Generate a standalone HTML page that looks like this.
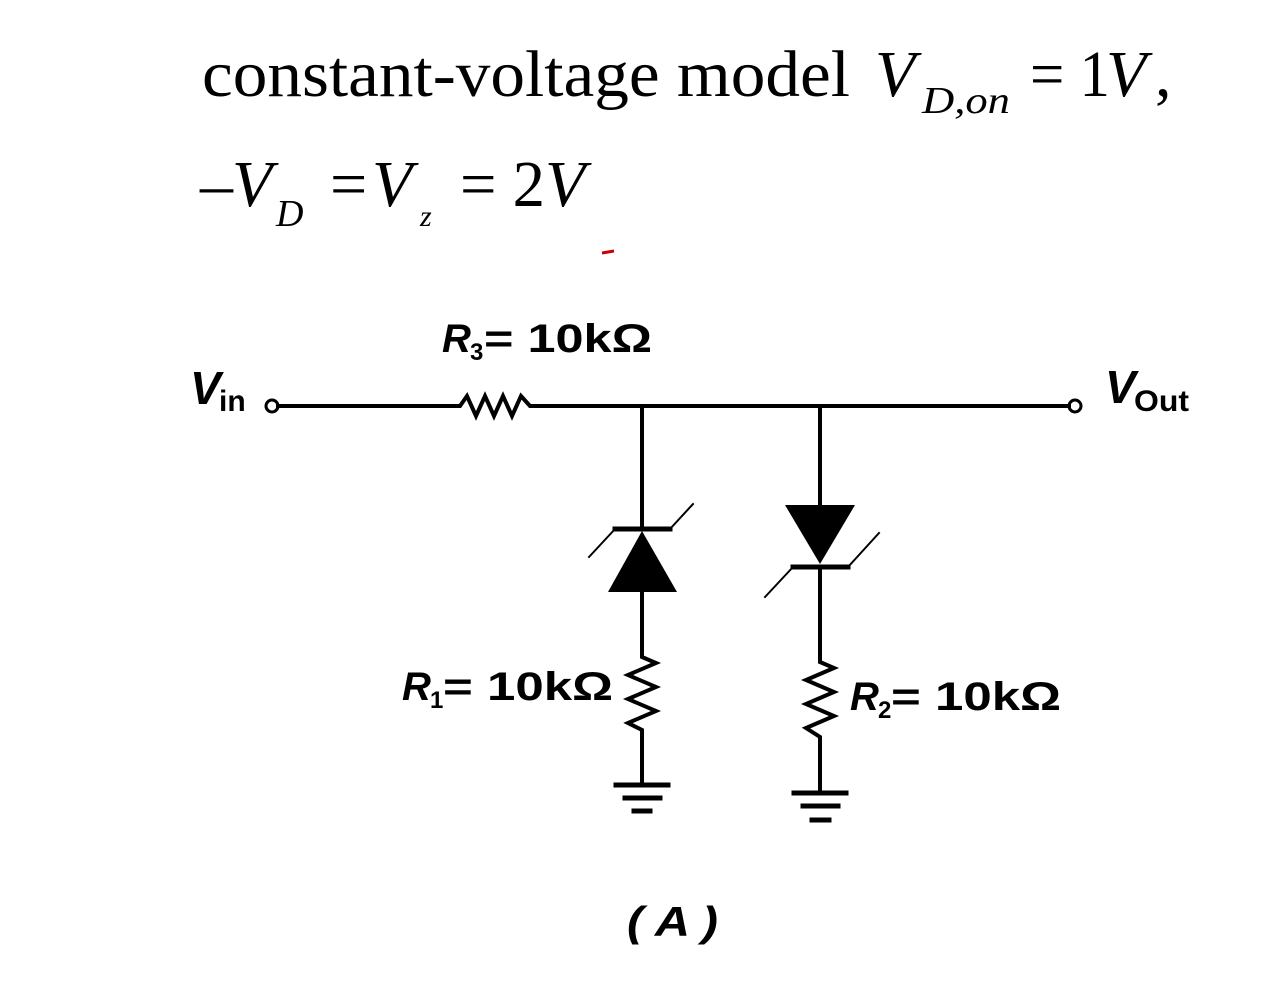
<!DOCTYPE html>
<html><head><style>
html,body{margin:0;padding:0;background:#fff;}
body{width:1268px;height:999px;position:relative;overflow:hidden;}
</style></head><body>
<svg width="1268" height="999" viewBox="0 0 1268 999" xmlns="http://www.w3.org/2000/svg" style="position:absolute;left:0;top:0">
<g font-family="Liberation Serif, serif" fill="#000">
<text x="202" y="96" font-size="66" textLength="648" lengthAdjust="spacingAndGlyphs">constant-voltage model</text>
<text x="875" y="96" font-size="66" font-style="italic">V</text>
<text x="922" y="113" font-size="38" font-style="italic" textLength="88" lengthAdjust="spacingAndGlyphs">D,on</text>
<text x="1030" y="96" font-size="66" textLength="80" lengthAdjust="spacingAndGlyphs">= 1</text>
<text x="1106" y="96" font-size="66" font-style="italic">V</text>
<text x="1155" y="96" font-size="66">,</text>
<text x="200" y="206" font-size="66">–</text>
<text x="232" y="206" font-size="66" font-style="italic">V</text>
<text x="276" y="226" font-size="38" font-style="italic">D</text>
<text x="330" y="206" font-size="66">=</text>
<text x="372" y="206" font-size="66" font-style="italic">V</text>
<text x="420" y="226" font-size="30" font-style="italic">z</text>
<text x="460" y="206" font-size="66" textLength="85" lengthAdjust="spacingAndGlyphs">= 2</text>
<text x="545" y="206" font-size="66" font-style="italic">V</text>
</g>
<path d="M602 253 L614 251" stroke="#c00" stroke-width="3"/>
<g stroke="#000" stroke-width="4" fill="none" stroke-linecap="square">
<circle cx="272" cy="406" r="6" stroke-width="3"/>
<circle cx="1075" cy="406" r="6" stroke-width="3"/>
<path d="M278 406 H460 L467 396 L476 416 L485 396 L494 416 L503 396 L512 416 L521 396 L530 406 H1069"/>
<path d="M642 406 V529"/>
<path d="M642 592 V657 L656 663 L628 675 L656 687 L628 699 L656 711 L628 723 L642 730 V785"/>
<path d="M616 785 H668 M625 798 H660 M634 811 H650" stroke-width="5"/>
<path d="M615 529 H670" stroke-width="5"/>
<path d="M589 557 L615 529 M670 529 L693 504" stroke-width="2"/>
<path d="M820 406 V505"/>
<path d="M820 567 V662 L834 668 L806 680 L834 692 L806 704 L834 716 L806 728 L820 737 V793"/>
<path d="M794 793 H846 M803 806 H838 M812 820 H829" stroke-width="5"/>
<path d="M793 567 H848" stroke-width="5"/>
<path d="M765 597 L793 567 M848 567 L879 533" stroke-width="2"/>
</g>
<polygon points="642,531 608,592 677,592" fill="#000"/>
<polygon points="785,505 855,505 820,564" fill="#000"/>
<g font-family="Liberation Sans, sans-serif" font-weight="bold" fill="#000">
<text x="190" y="404" font-size="46" font-style="italic">V</text>
<text x="219" y="411" font-size="30">in</text>
<text x="1105" y="403" font-size="46" font-style="italic">V</text>
<text x="1134" y="411" font-size="30" textLength="55" lengthAdjust="spacingAndGlyphs">Out</text>
<text x="442" y="352" font-size="40" font-style="italic">R</text>
<text x="470" y="360" font-size="24">3</text>
<text x="484" y="352" font-size="40" textLength="168" lengthAdjust="spacingAndGlyphs">= 10kΩ</text>
<text x="402" y="700" font-size="40" font-style="italic">R</text>
<text x="430" y="708" font-size="24">1</text>
<text x="443" y="700" font-size="40" textLength="170" lengthAdjust="spacingAndGlyphs">= 10kΩ</text>
<text x="850" y="710" font-size="40" font-style="italic">R</text>
<text x="878" y="718" font-size="24">2</text>
<text x="891" y="710" font-size="40" textLength="170" lengthAdjust="spacingAndGlyphs">= 10kΩ</text>
<text x="627" y="936" font-size="42" font-style="italic" textLength="91" lengthAdjust="spacingAndGlyphs">( A )</text>
</g>
</svg>
</body></html>
